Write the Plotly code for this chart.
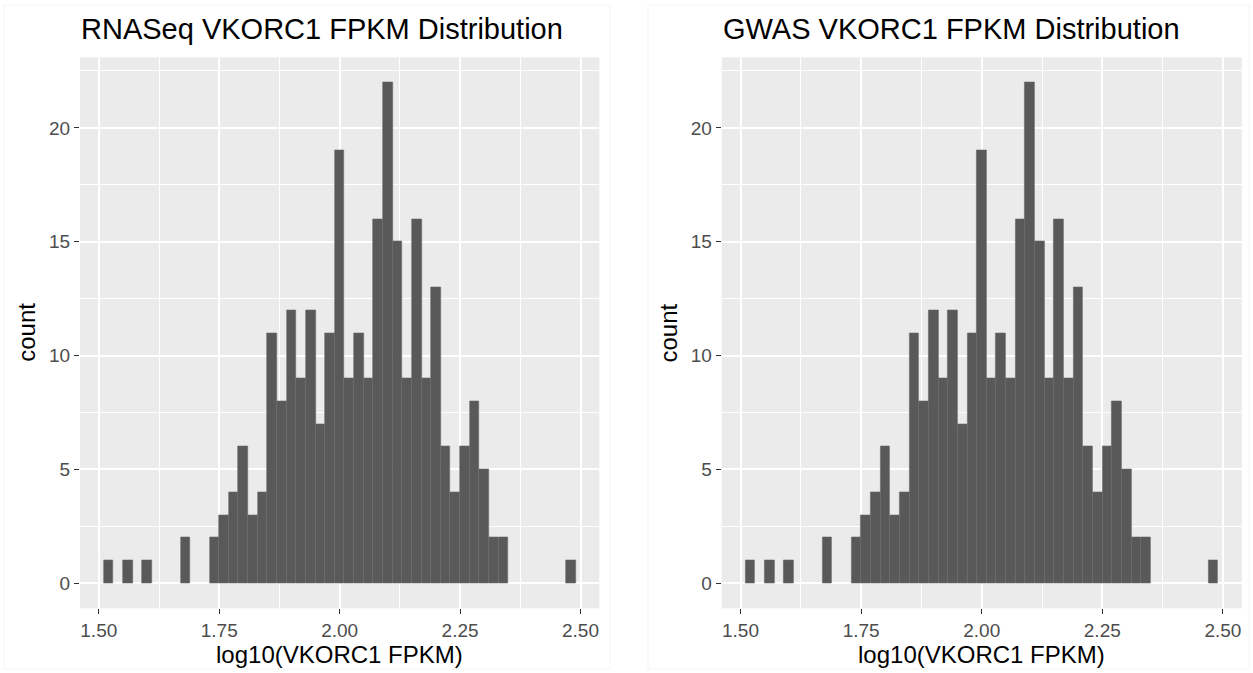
import plotly.graph_objects as go

# ---- data ----
bin_centers = [1.52, 1.54, 1.56, 1.58, 1.60, 1.62, 1.64, 1.66, 1.68, 1.70,
               1.72, 1.74, 1.76, 1.78, 1.80, 1.82, 1.84, 1.86, 1.88, 1.90,
               1.92, 1.94, 1.96, 1.98, 2.00, 2.02, 2.04, 2.06, 2.08, 2.10,
               2.12, 2.14, 2.16, 2.18, 2.20, 2.22, 2.24, 2.26, 2.28, 2.30,
               2.32, 2.34, 2.36, 2.38, 2.40, 2.42, 2.44, 2.46, 2.48]
rnaseq_counts = [1, 0, 1, 0, 1, 0, 0, 0, 2, 0,
                 0, 2, 3, 4, 6, 3, 4, 11, 8, 12,
                 9, 12, 7, 11, 19, 9, 11, 9, 16, 22,
                 15, 9, 16, 9, 13, 6, 4, 6, 8, 5,
                 2, 2, 0, 0, 0, 0, 0, 0, 1]
gwas_counts = [1, 0, 1, 0, 1, 0, 0, 0, 2, 0,
               0, 2, 3, 4, 6, 3, 4, 11, 8, 12,
               9, 12, 7, 11, 19, 9, 11, 9, 16, 22,
               15, 9, 16, 9, 13, 6, 4, 6, 8, 5,
               2, 2, 0, 0, 0, 0, 0, 0, 1]
bin_width = 0.02
x_ticks = [1.50, 1.75, 2.00, 2.25, 2.50]
x_tick_labels = ["1.50", "1.75", "2.00", "2.25", "2.50"]
y_ticks = [0, 5, 10, 15, 20]
titles = ["RNASeq VKORC1 FPKM Distribution", "GWAS VKORC1 FPKM Distribution"]
x_title = "log10(VKORC1 FPKM)"
y_title = "count"

# ---- layout geometry ----
W, H = 1253, 673
FONT = "Liberation Sans, Arial, Helvetica, sans-serif"
panels = [(80.0, 599.3), (721.7, 1241.7)]
top_px, bottom_px = 57.3, 608.3
ydom = [1 - bottom_px / H, 1 - top_px / H]

fig = go.Figure()
for i, counts in enumerate([rnaseq_counts, gwas_counts]):
    sfx = "" if i == 0 else str(i + 1)
    edge_w = [0.6 if c > 0 else 0 for c in counts]
    fig.add_trace(go.Bar(
        x=bin_centers, y=counts, width=bin_width,
        marker=dict(color="#595959", line=dict(color="#686868", width=edge_w)),
        xaxis="x" + sfx, yaxis="y" + sfx, showlegend=False,
        hoverinfo="x+y",
    ))

axis_common = dict(
    showline=False, zeroline=False,
    showgrid=True, gridcolor="white", gridwidth=1.6,
    ticks="outside", ticklen=5, tickwidth=1.2, tickcolor="#333333",
    tickfont=dict(family=FONT, size=19, color="#4D4D4D"),
    fixedrange=True,
)

layout = dict(
    width=W, height=H,
    margin=dict(l=0, r=0, t=0, b=0),
    paper_bgcolor="white", plot_bgcolor="#EBEBEB",
    bargap=0, font=dict(family=FONT),
    annotations=[], shapes=[],
)

for i, (x0, x1) in enumerate(panels):
    sfx = "" if i == 0 else str(i + 1)
    layout["xaxis" + sfx] = dict(
        axis_common,
        domain=[x0 / W, x1 / W], range=[1.461, 2.539],
        tickvals=x_ticks, ticktext=x_tick_labels,
        anchor="y" + sfx,
        minor=dict(dtick=0.125, tick0=1.375, showgrid=True,
                   gridcolor="white", gridwidth=0.8, ticks=""),
    )
    layout["yaxis" + sfx] = dict(
        axis_common,
        domain=ydom, range=[-1.1, 23.1],
        tickvals=y_ticks,
        anchor="x" + sfx,
        minor=dict(dtick=2.5, tick0=2.5, showgrid=True,
                   gridcolor="white", gridwidth=0.8, ticks=""),
    )
    # plot title
    layout["annotations"].append(dict(
        text=titles[i], xref="paper", yref="paper",
        x=(x0 - 1) / W, y=1 - 29.5 / H, xanchor="left", yanchor="middle",
        showarrow=False, font=dict(family=FONT, size=29, color="black"),
    ))
    # x axis title
    layout["annotations"].append(dict(
        text=x_title, xref="paper", yref="paper",
        x=(x0 + x1) / 2 / W, y=1 - 654 / H, xanchor="center", yanchor="middle",
        showarrow=False, font=dict(family=FONT, size=24, color="black"),
    ))
    # y axis title
    layout["annotations"].append(dict(
        text=y_title, xref="paper", yref="paper",
        x=(x0 - 53) / W, y=1 - 332.8 / H, xanchor="center", yanchor="middle",
        textangle=-90,
        showarrow=False, font=dict(family=FONT, size=24, color="black"),
    ))

# faint outer borders of each sub-plot
for (bx0, bx1) in [(4, 610), (648, 1249)]:
    layout["shapes"].append(dict(
        type="rect", xref="paper", yref="paper",
        x0=bx0 / W, x1=bx1 / W, y0=1 - 669 / H, y1=1 - 5 / H,
        line=dict(color="#F4F4F4", width=1), layer="below",
    ))

fig.update_layout(**layout)
fig.write_html("out.html")
